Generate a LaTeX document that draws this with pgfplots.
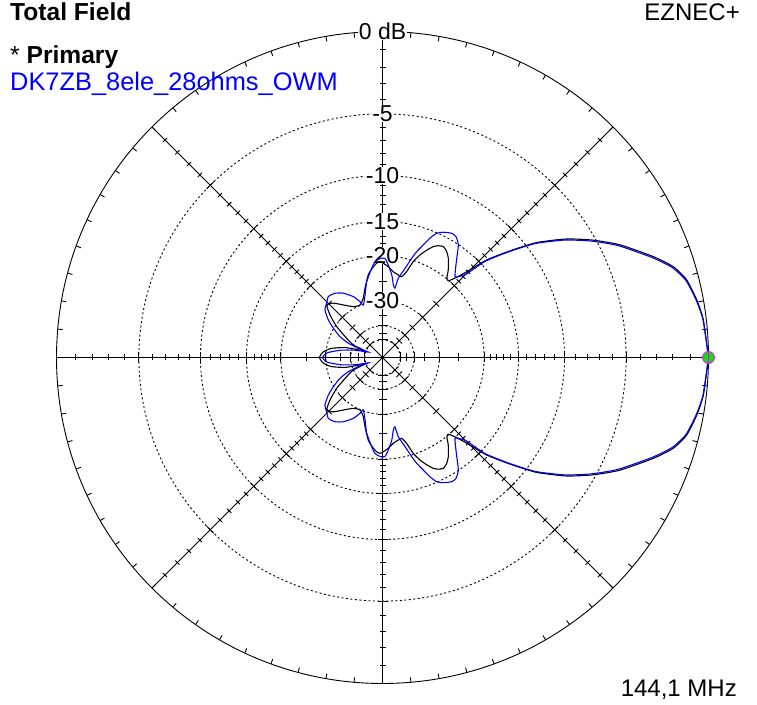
\documentclass[border=0pt]{standalone}
\usepackage{fontspec}
\setmainfont{Liberation Sans}
\usepackage{pgfplots}
\pgfplotsset{compat=1.18}
\definecolor{ezblue}{RGB}{0,0,255}
\definecolor{ezgreen}{RGB}{20,220,20}
\definecolor{ezmag}{RGB}{255,0,255}
\begin{document}
\begin{tikzpicture}
\useasboundingbox (0,0) rectangle (757bp,705bp);
% ---------- polar grid (ARRL log scale, 0.89 per 2 dB) ----------
\begin{scope}[shift={(382.5bp,347.5bp)}, x=326bp, y=326bp, line width=0.9bp]
  \foreach \r in {0.7473,0.5584,0.4173,0.3118,0.1741,0.0972,0.0543}
    \draw[dash pattern=on 2bp off 2.5bp] (0,0) circle[radius=\r];
  \draw (0,0) circle[radius=1];
  \foreach \a in {0,45,...,315} \draw (0,0) -- (\a:1);
  \foreach \a in {5,10,...,355} \draw (\a:1) -- ++(\a+180:5bp);
  \foreach \a in {0,45,...,315} {
    \foreach \r in {0.9434,0.89,0.8396,0.7921,0.7050,0.6651,0.6274,0.5919,0.5268,0.4970,0.4689,0.4423,0.3937,0.3714,0.3504,0.3306}
      \draw (\a:\r) ++(\a+90:3bp) -- ++(\a-90:6bp);
    \foreach \r in {0.2330,0.1301,0.0726}
      \draw (\a:\r) ++(\a+90:4bp) -- ++(\a-90:8bp);
    \foreach \r in {0.7473,0.5584,0.4173,0.3118,0.1741,0.0972,0.0543}
      \draw (\a:\r) ++(\a+90:5bp) -- ++(\a-90:10bp);
  }
  \begin{scope}[every node/.style={fill=white, inner sep=0.5bp, font=\fontsize{23bp}{25bp}\selectfont}]
    \node at (0,1) {0 dB};
    \node at (0,0.7473) {-5};
    \node at (0,0.5584) {-10};
    \node at (0,0.4173) {-15};
    \node at (0,0.3118) {-20};
    \node at (0,0.1741) {-30};
  \end{scope}
\end{scope}
% ---------- texts ----------
\node[anchor=base west, inner sep=0, font=\fontsize{24.6bp}{28bp}\selectfont\bfseries] at (10bp,684.3bp) {Total Field};
\node[anchor=base west, inner sep=0, font=\fontsize{24.6bp}{28bp}\selectfont] at (10bp,641.7bp) {* \textbf{Primary}};
\node[anchor=base west, inner sep=0, font=\fontsize{25.4bp}{28bp}\selectfont, text=ezblue] at (10bp,614.3bp) {DK7ZB\_8ele\_28ohms\_OWM};
\node[anchor=base east, inner sep=0, font=\fontsize{24bp}{28bp}\selectfont] at (740bp,684.3bp) {EZNEC+};
\node[anchor=base east, inner sep=0, font=\fontsize{24bp}{28bp}\selectfont] at (737bp,9bp) {144,1 MHz};
% ---------- patterns ----------
\begin{axis}[at={(0,0)}, anchor=south west, scale only axis,
  width=757bp, height=705bp,
  xmin=-1.1733, xmax=1.1488, ymin=-1.0660, ymax=1.0966,
  hide axis, clip=false]
\addplot[black, line width=1.1bp, data cs=polar, smooth, tension=0.35] coordinates {
(0,1.0)(6.7,0.991)(10.4,0.980)(14.3,0.963)(17.3,0.935)(20.4,0.887)(25.4,0.806)(29.1,0.740)(32.75,0.672)(36.7,0.590)(39.9,0.510)(43.1,0.438)(45.5,0.369)(47.5,0.331)(49.4,0.310)(51,0.314)(53.1,0.336)(56.4,0.365)(58.8,0.380)(61.2,0.388)(63.5,0.383)(65.4,0.374)(67.6,0.356)(69.9,0.335)(72.2,0.309)(74.3,0.274)(76.6,0.255)(79.2,0.258)(82.8,0.265)(86.3,0.279)(89.5,0.289)(91.5,0.294)(93.5,0.290)(96.5,0.276)(99.8,0.257)(104.2,0.219)(108,0.191)(113.2,0.175)(119.9,0.180)(126.7,0.201)(132.2,0.225)(136.7,0.235)(141,0.207)(146.1,0.169)(151.8,0.125)(156.8,0.098)(159.5,0.061)(165,0.117)(170,0.160)(175,0.184)(180,0.193)
(185,0.184)(190,0.160)(195,0.117)(200.5,0.061)(203.2,0.098)(208.2,0.125)(213.9,0.169)(219,0.207)(223.3,0.235)(227.8,0.225)(233.3,0.201)(240.1,0.180)(246.8,0.175)(252,0.191)(255.8,0.219)(260.2,0.257)(263.5,0.276)(266.5,0.290)(268.5,0.294)(270.5,0.289)(273.7,0.279)(277.2,0.265)(280.8,0.258)(283.4,0.255)(285.7,0.274)(287.8,0.309)(290.1,0.335)(292.4,0.356)(294.6,0.374)(296.5,0.383)(298.8,0.388)(301.2,0.380)(303.6,0.365)(306.9,0.336)(309,0.314)(310.6,0.310)(312.5,0.331)(314.5,0.369)(316.9,0.438)(320.1,0.510)(323.3,0.590)(327.25,0.672)(330.9,0.740)(334.6,0.806)(339.6,0.887)(342.7,0.935)(345.7,0.963)(349.6,0.980)(353.3,0.991)(360,1.0)
};
\addplot[ezblue, line width=1.1bp, data cs=polar, smooth, tension=0.35] coordinates {
(0,1.0)(6.7,0.990)(10.4,0.978)(14.3,0.960)(17.3,0.930)(20.4,0.881)(25.4,0.800)(29.1,0.734)(32.75,0.666)(36.7,0.585)(39.9,0.506)(43.1,0.432)(44.8,0.364)(46.5,0.343)(48.1,0.333)(52,0.367)(56,0.416)(58.7,0.434)(60.9,0.436)(64.1,0.427)(66.4,0.416)(68.3,0.394)(70.1,0.367)(72.1,0.341)(73.6,0.317)(75.8,0.282)(78.7,0.248)(79.8,0.216)(81.5,0.225)(83.6,0.255)(86.4,0.284)(88.6,0.304)(91.4,0.304)(94.5,0.295)(96.9,0.276)(101.8,0.237)(105.6,0.199)(110.1,0.171)(112,0.185)(115.6,0.207)(121.4,0.231)(126.5,0.245)(131.7,0.250)(135.8,0.239)(140.4,0.229)(145.3,0.202)(149.3,0.175)(153.9,0.145)(157.4,0.113)(159.2,0.079)(159,0.046)(165,0.086)(170,0.129)(175,0.169)(180,0.184)
(185,0.169)(190,0.129)(195,0.086)(201,0.046)(200.8,0.079)(202.6,0.113)(206.1,0.145)(210.7,0.175)(214.7,0.202)(219.6,0.229)(224.2,0.239)(228.3,0.250)(233.5,0.245)(238.6,0.231)(244.4,0.207)(248,0.185)(249.9,0.171)(254.4,0.199)(258.2,0.237)(263.1,0.276)(265.5,0.295)(268.6,0.304)(271.4,0.304)(273.6,0.284)(276.4,0.255)(278.5,0.225)(280.2,0.216)(281.3,0.248)(284.2,0.282)(286.4,0.317)(287.9,0.341)(289.9,0.367)(291.7,0.394)(293.6,0.416)(295.9,0.427)(299.1,0.436)(301.3,0.434)(304,0.416)(308,0.367)(311.9,0.333)(313.5,0.343)(315.2,0.364)(316.9,0.432)(320.1,0.506)(323.3,0.585)(327.25,0.666)(330.9,0.734)(334.6,0.800)(339.6,0.881)(342.7,0.930)(345.7,0.960)(349.6,0.978)(353.3,0.990)(360,1.0)
};
\addplot[only marks, data cs=polar, mark=*, mark size=6bp, mark options={fill=ezgreen, draw=ezmag, line width=0.8bp}] coordinates {(0,1.0)};
\addplot[only marks, data cs=polar, mark=|, mark size=6.5bp, mark options={draw=ezmag, line width=0.8bp}] coordinates {(0,1.0)};
\end{axis}
\end{tikzpicture}
\end{document}
